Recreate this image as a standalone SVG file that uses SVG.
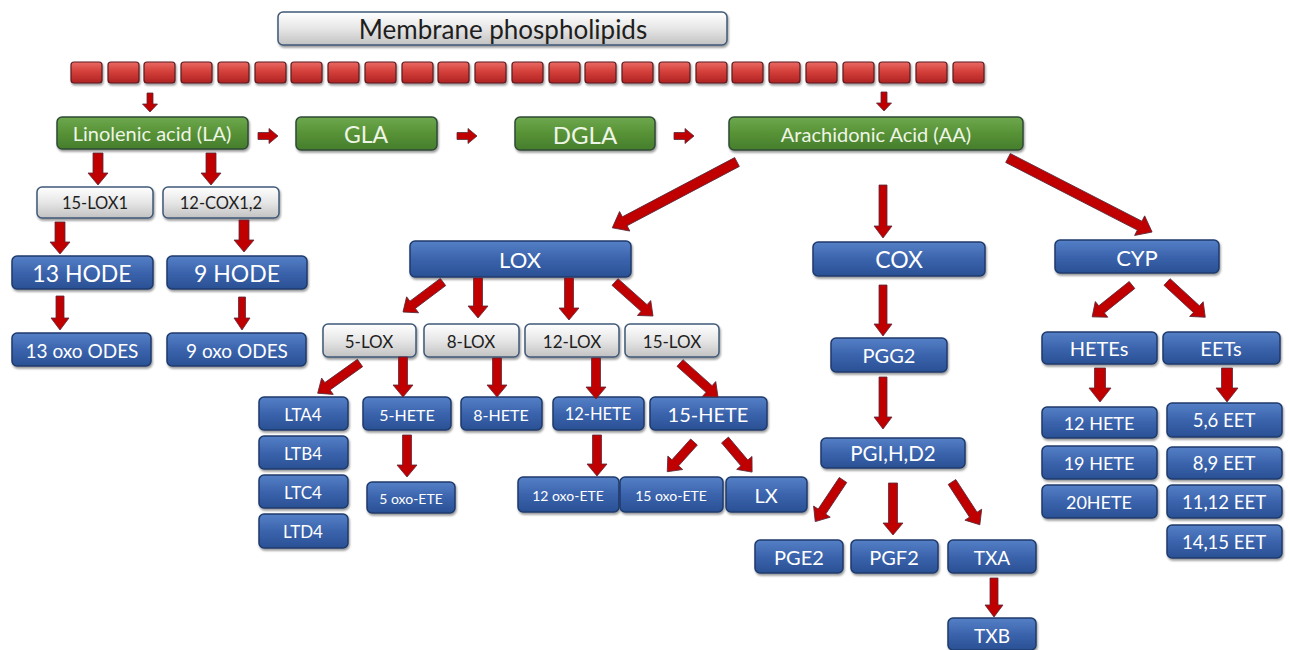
<svg xmlns="http://www.w3.org/2000/svg" width="1290" height="650" viewBox="0 0 1290 650">
<defs>
<linearGradient id="gBlue" x1="0" y1="0" x2="0" y2="1"><stop offset="0" stop-color="#5580c6"/><stop offset="0.5" stop-color="#3b64ad"/><stop offset="1" stop-color="#2a5094"/></linearGradient>
<linearGradient id="gGreen" x1="0" y1="0" x2="0" y2="1"><stop offset="0" stop-color="#6ea84e"/><stop offset="0.5" stop-color="#579236"/><stop offset="1" stop-color="#467d2c"/></linearGradient>
<linearGradient id="gGray" x1="0" y1="0" x2="0" y2="1"><stop offset="0" stop-color="#ffffff"/><stop offset="0.5" stop-color="#e6e6e6"/><stop offset="1" stop-color="#c2c2c2"/></linearGradient>
<linearGradient id="gRed" x1="0" y1="0" x2="0" y2="1"><stop offset="0" stop-color="#ea6a64"/><stop offset="0.45" stop-color="#d43f3a"/><stop offset="1" stop-color="#b02222"/></linearGradient>
<filter id="sh" x="-10%" y="-20%" width="120%" height="150%"><feDropShadow dx="1" dy="2" stdDeviation="1.2" flood-color="#000" flood-opacity="0.4"/></filter>
<style>
.b{fill:url(#gBlue);stroke:#1f3a6b;stroke-width:1.5;filter:url(#sh)}
.g{fill:url(#gGreen);stroke:#2f4a36;stroke-width:1.5;filter:url(#sh)}
.w{fill:url(#gGray);stroke:#3f5878;stroke-width:1.5;filter:url(#sh)}
.r{fill:url(#gRed);stroke:#5a1c22;stroke-width:1.2;filter:url(#sh)}
text{font-family:Lato,"Open Sans","Liberation Sans",sans-serif;text-anchor:middle;dominant-baseline:central}
.tw{fill:#ffffff}
.tg{fill:#eef5e6}
.td{fill:#1e1e1e}
.a{fill:#c00000;stroke:#5a2a3a;stroke-width:0.8}
</style>
</defs>
<g id="membrane"><rect class="w" x="278" y="12" width="449" height="33" rx="5"/><text class="td" x="503" y="29" font-size="26">Membrane phospholipids</text></g>
<g id="lipid-chain">
<rect class="r" x="71" y="62" width="31" height="21" rx="3"/><rect class="r" x="108" y="62" width="31" height="21" rx="3"/><rect class="r" x="144" y="62" width="31" height="21" rx="3"/><rect class="r" x="181" y="62" width="31" height="21" rx="3"/><rect class="r" x="218" y="62" width="31" height="21" rx="3"/><rect class="r" x="255" y="62" width="31" height="21" rx="3"/><rect class="r" x="291" y="62" width="31" height="21" rx="3"/><rect class="r" x="328" y="62" width="31" height="21" rx="3"/><rect class="r" x="365" y="62" width="31" height="21" rx="3"/><rect class="r" x="402" y="62" width="31" height="21" rx="3"/><rect class="r" x="438" y="62" width="31" height="21" rx="3"/><rect class="r" x="475" y="62" width="31" height="21" rx="3"/><rect class="r" x="512" y="62" width="31" height="21" rx="3"/><rect class="r" x="549" y="62" width="31" height="21" rx="3"/><rect class="r" x="585" y="62" width="31" height="21" rx="3"/><rect class="r" x="622" y="62" width="31" height="21" rx="3"/><rect class="r" x="659" y="62" width="31" height="21" rx="3"/><rect class="r" x="696" y="62" width="31" height="21" rx="3"/><rect class="r" x="732" y="62" width="31" height="21" rx="3"/><rect class="r" x="769" y="62" width="31" height="21" rx="3"/><rect class="r" x="806" y="62" width="31" height="21" rx="3"/><rect class="r" x="843" y="62" width="31" height="21" rx="3"/><rect class="r" x="879" y="62" width="31" height="21" rx="3"/><rect class="r" x="916" y="62" width="31" height="21" rx="3"/><rect class="r" x="953" y="62" width="31" height="21" rx="3"/>
</g>
<g id="LA"><rect class="g" x="57" y="117" width="191" height="32" rx="5"/><text class="tg" x="152" y="133" font-size="20">Linolenic acid (LA)</text></g>
<g id="GLA"><rect class="g" x="296" y="117" width="141" height="33" rx="5"/><text class="tg" x="366" y="134" font-size="23">GLA</text></g>
<g id="DGLA"><rect class="g" x="515" y="117" width="140" height="33" rx="5"/><text class="tg" x="585" y="134" font-size="24">DGLA</text></g>
<g id="AA"><rect class="g" x="729" y="117" width="294" height="33" rx="5"/><text class="tg" x="876" y="134" font-size="20">Arachidonic Acid (AA)</text></g>
<g id="LOX15-1"><rect class="w" x="37" y="187" width="116" height="31" rx="5"/><text class="td" x="95" y="203" font-size="16.5">15-LOX1</text></g>
<g id="COX12"><rect class="w" x="163" y="187" width="116" height="31" rx="5"/><text class="td" x="221" y="203" font-size="16.5">12-COX1,2</text></g>
<g id="HODE13"><rect class="b" x="12" y="256" width="141" height="33" rx="5"/><text class="tw" x="82" y="273" font-size="23">13 HODE</text></g>
<g id="HODE9"><rect class="b" x="167" y="256" width="140" height="33" rx="5"/><text class="tw" x="237" y="273" font-size="23">9 HODE</text></g>
<g id="ODES13"><rect class="b" x="12" y="333" width="139" height="33" rx="5"/><text class="tw" x="82" y="350" font-size="19">13 oxo ODES</text></g>
<g id="ODES9"><rect class="b" x="167" y="333" width="139" height="33" rx="5"/><text class="tw" x="237" y="350" font-size="19">9 oxo ODES</text></g>
<g id="LOX"><rect class="b" x="410" y="241" width="221" height="36" rx="5"/><text class="tw" x="520" y="259" font-size="22">LOX</text></g>
<g id="COX"><rect class="b" x="813" y="242" width="172" height="34" rx="5"/><text class="tw" x="899" y="259" font-size="23">COX</text></g>
<g id="CYP"><rect class="b" x="1055" y="240" width="164" height="33" rx="5"/><text class="tw" x="1137" y="257" font-size="22">CYP</text></g>
<g id="LOX5"><rect class="w" x="323" y="324" width="93" height="33" rx="5"/><text class="td" x="369" y="341" font-size="17">5-LOX</text></g>
<g id="LOX8"><rect class="w" x="424" y="324" width="95" height="33" rx="5"/><text class="td" x="471" y="341" font-size="17">8-LOX</text></g>
<g id="LOX12"><rect class="w" x="525" y="324" width="94" height="33" rx="5"/><text class="td" x="572" y="341" font-size="17">12-LOX</text></g>
<g id="LOX15"><rect class="w" x="625" y="324" width="94" height="33" rx="5"/><text class="td" x="672" y="341" font-size="17">15-LOX</text></g>
<g id="LTA4"><rect class="b" x="259" y="397" width="89" height="33" rx="5"/><text class="tw" x="303" y="414" font-size="17">LTA4</text></g>
<g id="LTB4"><rect class="b" x="259" y="436" width="89" height="33" rx="5"/><text class="tw" x="303" y="453" font-size="17">LTB4</text></g>
<g id="LTC4"><rect class="b" x="259" y="475" width="89" height="33" rx="5"/><text class="tw" x="303" y="492" font-size="17">LTC4</text></g>
<g id="LTD4"><rect class="b" x="259" y="514" width="89" height="34" rx="5"/><text class="tw" x="303" y="531" font-size="17">LTD4</text></g>
<g id="HETE5"><rect class="b" x="363" y="397" width="88" height="33" rx="5"/><text class="tw" x="407" y="414" font-size="16">5-HETE</text></g>
<g id="HETE8"><rect class="b" x="461" y="397" width="81" height="33" rx="5"/><text class="tw" x="501" y="414" font-size="16">8-HETE</text></g>
<g id="HETE12"><rect class="b" x="553" y="397" width="91" height="33" rx="5"/><text class="tw" x="598" y="414" font-size="16.5">12-HETE</text></g>
<g id="HETE15"><rect class="b" x="650" y="397" width="117" height="33" rx="5"/><text class="tw" x="708" y="414" font-size="20">15-HETE</text></g>
<g id="oxoETE5"><rect class="b" x="367" y="482" width="88" height="31" rx="5"/><text class="tw" x="411" y="498" font-size="14">5 oxo-ETE</text></g>
<g id="oxoETE12"><rect class="b" x="518" y="477" width="101" height="35" rx="5"/><text class="tw" x="568" y="495" font-size="14">12 oxo-ETE</text></g>
<g id="oxoETE15"><rect class="b" x="620" y="477" width="103" height="35" rx="5"/><text class="tw" x="671" y="495" font-size="14">15 oxo-ETE</text></g>
<g id="LX"><rect class="b" x="726" y="477" width="81" height="35" rx="5"/><text class="tw" x="766" y="495" font-size="20">LX</text></g>
<g id="PGG2"><rect class="b" x="831" y="338" width="116" height="34" rx="5"/><text class="tw" x="889" y="355" font-size="20">PGG2</text></g>
<g id="PGIHD2"><rect class="b" x="821" y="438" width="144" height="30" rx="5"/><text class="tw" x="893" y="453" font-size="20.5">PGI,H,D2</text></g>
<g id="PGE2"><rect class="b" x="755" y="540" width="88" height="33" rx="5"/><text class="tw" x="799" y="557" font-size="20">PGE2</text></g>
<g id="PGF2"><rect class="b" x="851" y="540" width="87" height="33" rx="5"/><text class="tw" x="894" y="557" font-size="20">PGF2</text></g>
<g id="TXA"><rect class="b" x="948" y="540" width="88" height="33" rx="5"/><text class="tw" x="992" y="557" font-size="19">TXA</text></g>
<g id="TXB"><rect class="b" x="948" y="618" width="88" height="32" rx="5"/><text class="tw" x="992" y="635" font-size="19">TXB</text></g>
<g id="HETEs"><rect class="b" x="1042" y="332" width="115" height="32" rx="5"/><text class="tw" x="1099" y="348" font-size="20">HETEs</text></g>
<g id="EETs"><rect class="b" x="1163" y="332" width="117" height="32" rx="5"/><text class="tw" x="1221" y="348" font-size="20">EETs</text></g>
<g id="HETE12c"><rect class="b" x="1042" y="407" width="115" height="31" rx="5"/><text class="tw" x="1099" y="423" font-size="18">12 HETE</text></g>
<g id="HETE19"><rect class="b" x="1042" y="446" width="115" height="33" rx="5"/><text class="tw" x="1099" y="463" font-size="18">19 HETE</text></g>
<g id="HETE20"><rect class="b" x="1042" y="485" width="115" height="33" rx="5"/><text class="tw" x="1099" y="502" font-size="18">20HETE</text></g>
<g id="EET56"><rect class="b" x="1167" y="403" width="115" height="34" rx="5"/><text class="tw" x="1224" y="420" font-size="18.5">5,6 EET</text></g>
<g id="EET89"><rect class="b" x="1167" y="447" width="115" height="32" rx="5"/><text class="tw" x="1224" y="463" font-size="18.5">8,9 EET</text></g>
<g id="EET1112"><rect class="b" x="1167" y="485" width="115" height="33" rx="5"/><text class="tw" x="1224" y="502" font-size="18.5">11,12 EET</text></g>
<g id="EET1415"><rect class="b" x="1167" y="525" width="115" height="33" rx="5"/><text class="tw" x="1224" y="542" font-size="18.5">14,15 EET</text></g>
<g id="connectors">
<polygon class="a" transform="translate(150,93) rotate(90)" points="0,-3 11,-3 11,-7.5 19,0 11,7.5 11,3 0,3"/>
<polygon class="a" transform="translate(884,92) rotate(90)" points="0,-3 11,-3 11,-7.5 19,0 11,7.5 11,3 0,3"/>
<polygon class="a" transform="translate(258,136)" points="0,-3.5 11,-3.5 11,-7.5 20,0 11,7.5 11,3.5 0,3.5"/>
<polygon class="a" transform="translate(457,136)" points="0,-3.5 11,-3.5 11,-7.5 20,0 11,7.5 11,3.5 0,3.5"/>
<polygon class="a" transform="translate(674,136)" points="0,-3.5 11,-3.5 11,-7.5 20,0 11,7.5 11,3.5 0,3.5"/>
<polygon class="a" transform="translate(98,153) rotate(90)" points="0,-5 20,-5 20,-10 32,0 20,10 20,5 0,5"/>
<polygon class="a" transform="translate(211,153) rotate(90)" points="0,-5 20,-5 20,-10 32,0 20,10 20,5 0,5"/>
<polygon class="a" transform="translate(60,222) rotate(90)" points="0,-5 20,-5 20,-10 32,0 20,10 20,5 0,5"/>
<polygon class="a" transform="translate(244,220) rotate(90)" points="0,-5 20,-5 20,-10 32,0 20,10 20,5 0,5"/>
<polygon class="a" transform="translate(60,296) rotate(90)" points="0,-4 22,-4 22,-9 34,0 22,9 22,4 0,4"/>
<polygon class="a" transform="translate(242,297) rotate(90)" points="0,-3.5 21,-3.5 21,-8 33,0 21,8 21,3.5 0,3.5"/>
<polygon class="a" transform="translate(737,162) rotate(152.17)" points="0,-5 127,-5 127,-11 141,0 127,11 127,5 0,5"/>
<polygon class="a" transform="translate(883,185) rotate(90)" points="0,-4 41,-4 41,-9 53,0 41,9 41,4 0,4"/>
<polygon class="a" transform="translate(1008,158) rotate(27.2)" points="0,-5 148,-5 148,-11 162,0 148,11 148,5 0,5"/>
<polygon class="a" transform="translate(443,282) rotate(143.13)" points="0,-4.5 38,-4.5 38,-10 50,0 38,10 38,4.5 0,4.5"/>
<polygon class="a" transform="translate(478,278) rotate(90)" points="0,-4.5 28,-4.5 28,-10 40,0 28,10 28,4.5 0,4.5"/>
<polygon class="a" transform="translate(569,278) rotate(90)" points="0,-4.5 30,-4.5 30,-10 42,0 30,10 30,4.5 0,4.5"/>
<polygon class="a" transform="translate(615,282) rotate(41.82)" points="0,-4.5 39,-4.5 39,-10 51,0 39,10 39,4.5 0,4.5"/>
<polygon class="a" transform="translate(360,363) rotate(144.46)" points="0,-4.5 40,-4.5 40,-10 52,0 40,10 40,4.5 0,4.5"/>
<polygon class="a" transform="translate(403,357) rotate(90)" points="0,-4.5 28,-4.5 28,-10 40,0 28,10 28,4.5 0,4.5"/>
<polygon class="a" transform="translate(497,358) rotate(90)" points="0,-4.5 27,-4.5 27,-10 39,0 27,10 27,4.5 0,4.5"/>
<polygon class="a" transform="translate(596,358) rotate(90)" points="0,-4.5 29,-4.5 29,-10 41,0 29,10 29,4.5 0,4.5"/>
<polygon class="a" transform="translate(680,363) rotate(41.82)" points="0,-4.5 39,-4.5 39,-10 51,0 39,10 39,4.5 0,4.5"/>
<polygon class="a" transform="translate(407,435) rotate(90)" points="0,-4.5 30,-4.5 30,-10 42,0 30,10 30,4.5 0,4.5"/>
<polygon class="a" transform="translate(597,435) rotate(90)" points="0,-4.5 29,-4.5 29,-10 41,0 29,10 29,4.5 0,4.5"/>
<polygon class="a" transform="translate(694,442) rotate(131.99)" points="0,-4.5 28,-4.5 28,-10 40,0 28,10 28,4.5 0,4.5"/>
<polygon class="a" transform="translate(725,440) rotate(49.84)" points="0,-4.5 30,-4.5 30,-10 42,0 30,10 30,4.5 0,4.5"/>
<polygon class="a" transform="translate(883,285) rotate(90)" points="0,-4 39,-4 39,-9 51,0 39,9 39,4 0,4"/>
<polygon class="a" transform="translate(883,377) rotate(90)" points="0,-4 40,-4 40,-9 52,0 40,9 40,4 0,4"/>
<polygon class="a" transform="translate(843,480) rotate(123.69)" points="0,-4.5 38,-4.5 38,-10 50,0 38,10 38,4.5 0,4.5"/>
<polygon class="a" transform="translate(893,483) rotate(90)" points="0,-4.5 40,-4.5 40,-10 52,0 40,10 40,4.5 0,4.5"/>
<polygon class="a" transform="translate(952,482) rotate(56.93)" points="0,-4.5 39,-4.5 39,-10 51,0 39,10 39,4.5 0,4.5"/>
<polygon class="a" transform="translate(994,578) rotate(90)" points="0,-4 27,-4 27,-9 39,0 27,9 27,4 0,4"/>
<polygon class="a" transform="translate(1132,285) rotate(141.34)" points="0,-4.5 39,-4.5 39,-10 51,0 39,10 39,4.5 0,4.5"/>
<polygon class="a" transform="translate(1167,282) rotate(42.64)" points="0,-4.5 40,-4.5 40,-10 52,0 40,10 40,4.5 0,4.5"/>
<polygon class="a" transform="translate(1100,368) rotate(90)" points="0,-5.5 20,-5.5 20,-11 34,0 20,11 20,5.5 0,5.5"/>
<polygon class="a" transform="translate(1227,368) rotate(90)" points="0,-5.5 20,-5.5 20,-11 34,0 20,11 20,5.5 0,5.5"/>
</g>
</svg>
